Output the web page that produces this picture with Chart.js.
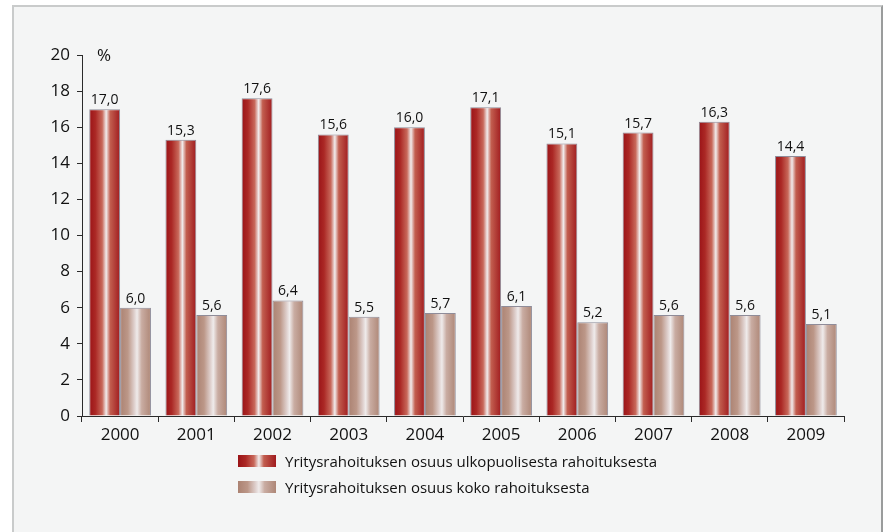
<!DOCTYPE html>
<html>
<head>
<meta charset="utf-8">
<script src="https://cdn.jsdelivr.net/npm/chart.js@4/dist/chart.umd.min.js"></script>
<style>
  html, body { margin: 0; padding: 0; background: #fff; }
  #wrap { position: relative; width: 884px; height: 532px; overflow: hidden; }
  #frame {
    position: absolute; left: 12px; top: 5px; width: 867px; height: 540px;
    background: #f4f5f5; border-left: 2px solid #c9cbcb; border-top: 2px solid #c9cbcb;
    border-right: 2px solid #9a9c9c;
  }
  #chartBox { position: absolute; left: 0; top: 0; width: 884px; height: 532px; }
  #legend {
    position: absolute; left: 238px; top: 448px;
    font-family: "Open Sans", sans-serif; font-size: 15px; color: #111;
    letter-spacing: 0;
  }
  .item { display: flex; align-items: center; height: 26px; }
  .swatch { width: 38px; height: 12px; margin-right: 9px; }
</style>
</head>
<body>
<div id="wrap">
  <div id="frame"></div>
  <div id="chartBox"><canvas id="myChart"></canvas></div>
  <div id="legend"></div>
</div>
<script>
const years = ["2000", "2001", "2002", "2003", "2004", "2005", "2006", "2007", "2008", "2009"];
const ulkopuolisesta = [17.0, 15.3, 17.6, 15.6, 16.0, 17.1, 15.1, 15.7, 16.3, 14.4];
const kokoRahoitus = [6.0, 5.6, 6.4, 5.5, 5.7, 6.1, 5.2, 5.6, 5.6, 5.1];
const seriesNames = [
  "Yritysrahoituksen osuus ulkopuolisesta rahoituksesta",
  "Yritysrahoituksen osuus koko rahoituksesta",
];
const yTicks = [0, 2, 4, 6, 8, 10, 12, 14, 16, 18, 20];

const gradStops = [
  [[0, "#9a1317"], [0.2, "#ab2825"], [0.42, "#c8685a"], [0.55, "#f1ecec"], [0.68, "#c25e4f"], [1, "#a01b1e"]],
  [[0, "#ab8272"], [0.25, "#bc9788"], [0.45, "#ddcdca"], [0.55, "#efebeb"], [0.7, "#c9aca2"], [1, "#ae8777"]],
];

const catPct = 0.81;

function barFill(context) {
  const chart = context.chart;
  const xs = chart.scales.x;
  const fallback = gradStops[context.datasetIndex][0][1];
  if (!xs || context.type !== "data") return fallback;
  const catW = xs.width / years.length;
  const center = xs.getPixelForValue(context.dataIndex);
  const bw = (catW * catPct) / 2;
  const left = context.datasetIndex === 0 ? center - bw : center;
  if (!isFinite(left) || !isFinite(bw) || bw <= 0) return fallback;
  const g = chart.ctx.createLinearGradient(left, 0, left + bw, 0);
  gradStops[context.datasetIndex].forEach((s) => g.addColorStop(s[0], s[1]));
  return g;
}

const valueLabels = {
  id: "valueLabels",
  afterDatasetsDraw(chart) {
    const ctx = chart.ctx;
    ctx.save();
    ctx.font = "14px 'Open Sans', sans-serif";
    ctx.fillStyle = "#111";
    ctx.textAlign = "center";
    ctx.textBaseline = "bottom";
    chart.data.datasets.forEach((ds, di) => {
      chart.getDatasetMeta(di).data.forEach((bar, i) => {
        ctx.fillText(ds.data[i].toFixed(1).replace(".", ","), bar.x, bar.y - 2);
      });
    });
    ctx.font = "17px 'Open Sans', sans-serif";
    ctx.textAlign = "left";
    ctx.textBaseline = "middle";
    ctx.fillText("%", chart.chartArea.left + 15, chart.chartArea.top + 1);
    ctx.restore();
  },
};

const legendEl = document.getElementById("legend");
seriesNames.forEach((name, i) => {
  const stops = gradStops[i].map((s) => s[1] + " " + s[0] * 100 + "%").join(", ");
  const item = document.createElement("div");
  item.className = "item";
  item.innerHTML = '<div class="swatch" style="background: linear-gradient(to right, ' + stops + ')"></div><span>' + name + "</span>";
  legendEl.appendChild(item);
});

const ctx = document.getElementById("myChart").getContext("2d");
const myChart = new Chart(ctx, {
  type: "bar",
  data: {
    labels: years,
    datasets: [
      { label: seriesNames[0], data: ulkopuolisesta, backgroundColor: barFill },
      { label: seriesNames[1], data: kokoRahoitus, backgroundColor: barFill },
    ],
  },
  options: {
    responsive: true,
    maintainAspectRatio: false,
    animation: false,
    layout: { padding: { top: 55, bottom: 86, left: 0, right: 40 } },
    datasets: {
      bar: {
        borderColor: "#8f8c99",
        borderWidth: 1,
        categoryPercentage: catPct,
        barPercentage: 1.0,
      },
    },
    plugins: {
      colors: { enabled: false },
      legend: { display: false },
      tooltip: { enabled: false },
    },
    scales: {
      x: {
        afterFit: (s) => { s.height = 30; },
        border: { color: "#2b2b2b", width: 1 },
        grid: { drawOnChartArea: false, tickLength: 6, color: "#2b2b2b", offset: true },
        ticks: { color: "#111", font: { family: "Open Sans", size: 17 }, padding: 3 },
      },
      y: {
        min: 0,
        max: 20,
        afterFit: (s) => { s.width = 82; },
        afterBuildTicks: (s) => { s.ticks = yTicks.map((v) => ({ value: v })); },
        border: { color: "#2b2b2b", width: 1 },
        grid: { drawOnChartArea: false, tickLength: 5, color: "#2b2b2b" },
        ticks: { color: "#111", font: { family: "Open Sans", size: 17 }, padding: 7 },
      },
    },
  },
  plugins: [valueLabels],
});
</script>
</body>
</html>
